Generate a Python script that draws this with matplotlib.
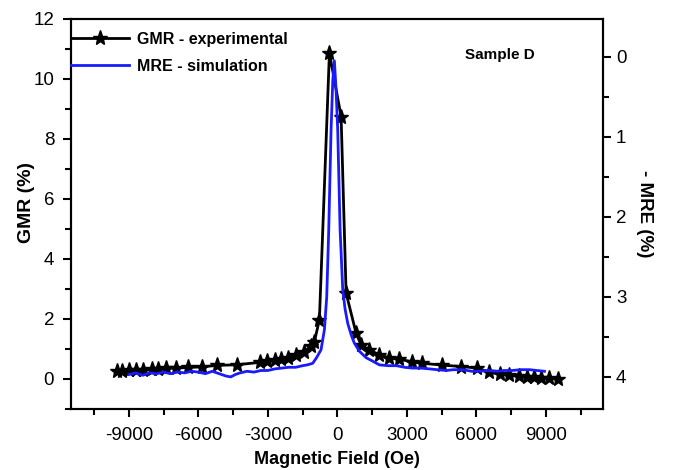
import matplotlib
matplotlib.use('Agg')
import matplotlib.pyplot as plt
from matplotlib.ticker import MultipleLocator

plt.rcParams['font.family'] = ['Liberation Sans', 'DejaVu Sans']
plt.rcParams['axes.unicode_minus'] = False

# GMR - experimental (field in Oe, GMR in %)
gmr_field = [-9500, -9300, -9000, -8700, -8400, -8000, -7750, -7400, -6950, -6450,
             -5850, -5200, -4350, -3350, -3050, -2700, -2430, -2144, -1784, -1424,
             -1137, -993, -777, -345, 160, 375, 807, 1022, 1381, 1813,
             2245, 2676, 3237, 3669, 4532, 5352, 6043, 6561, 7000, 7400,
             7850, 8200, 8500, 8800, 9150, 9500]
gmr_value = [0.25, 0.26, 0.28, 0.30, 0.30, 0.32, 0.33, 0.35, 0.36, 0.38,
             0.40, 0.45, 0.47, 0.55, 0.60, 0.63, 0.65, 0.69, 0.80, 0.91,
             1.08, 1.24, 1.97, 10.86, 8.74, 2.86, 1.52, 1.13, 0.97, 0.80,
             0.70, 0.65, 0.57, 0.52, 0.46, 0.41, 0.36, 0.22, 0.16, 0.12,
             0.08, 0.06, 0.05, 0.04, 0.03, 0.01]

# MRE - simulation (field in Oe, -MRE in %)
mre_field = [-9000, -8700, -8400, -8100, -7800, -7500, -7200, -6900, -6600, -6300,
             -6000, -5700, -5400, -5100, -4800, -4600, -4400, -4200, -3900, -3600,
             -3300, -3000, -2700, -2400, -2100, -1800, -1500, -1300, -1065, -900,
             -705, -561, -461, -374, -273, -200, -130, -60, 13, 116,
             230, 330, 445, 600, 734, 950, 1238, 1500, 1813, 2200,
             2547, 2900, 3237, 3600, 3971, 4300, 4705, 5000, 5395, 5800,
             6129, 6500, 6863, 7200, 7554, 7900, 8288, 8600, 8935]
mre_value = [3.97, 3.95, 3.98, 3.95, 3.96, 3.94, 3.96, 3.94, 3.95, 3.93,
             3.94, 3.96, 3.93, 3.96, 3.99, 4.00, 3.97, 3.95, 3.93, 3.94,
             3.92, 3.92, 3.90, 3.89, 3.88, 3.88, 3.86, 3.85, 3.83, 3.76,
             3.66, 3.41, 3.00, 2.16, 0.91, 0.30, 0.05, 0.40, 0.91, 2.16,
             2.91, 3.15, 3.33, 3.48, 3.58, 3.68, 3.76, 3.80, 3.85, 3.86,
             3.86, 3.88, 3.89, 3.89, 3.90, 3.91, 3.92, 3.91, 3.91, 3.93,
             3.93, 3.92, 3.93, 3.92, 3.92, 3.91, 3.91, 3.92, 3.93]

fig = plt.figure(figsize=(6.75, 4.7), dpi=100)
ax = fig.add_axes([0.105, 0.13, 0.788, 0.83])
ax2 = ax.twinx()

l1, = ax.plot(gmr_field, gmr_value, color='black', lw=2, marker='*', ms=11,
              label='GMR - experimental')
l2, = ax2.plot(mre_field, mre_value, color='#1a1aff', lw=2,
               label='MRE - simulation')

ax.set_xlim(-11500, 11450)
ax2.set_ylim(4.4, -0.475)

ax.set_xticks([-9000, -6000, -3000, 0, 3000, 6000, 9000])
ax.xaxis.set_minor_locator(MultipleLocator(1500))
ax.set_yticks(range(0, 13, 2))
ax.yaxis.set_minor_locator(MultipleLocator(1))
ax.set_ylim(-1, 12)
ax2.yaxis.set_major_locator(MultipleLocator(1))
ax2.yaxis.set_minor_locator(MultipleLocator(0.5))

for a in (ax, ax2):
    for s in a.spines.values():
        s.set_linewidth(1.5)
    a.tick_params(which='major', length=6, width=1.5, labelsize=13.5, direction='out')
    a.tick_params(which='minor', length=4, width=1.5, direction='out')
ax.tick_params(axis='x', pad=7)
ax.tick_params(axis='y', pad=6)

ax.set_xlabel('Magnetic Field (Oe)', fontsize=13, fontweight='bold')
ax.set_ylabel('GMR (%)', fontsize=14, fontweight='bold')
ax2.set_ylabel('- MRE (%)', fontsize=13.5, fontweight='bold', rotation=-90)
ax.xaxis.set_label_coords(0.5, -0.108)
ax.yaxis.set_label_coords(-0.068, 0.53)
ax2.yaxis.set_label_coords(1.095, 0.5)

ax2.text(0.806, 0.908, 'Sample D', transform=ax.transAxes, fontsize=11,
         fontweight='bold', ha='center', va='center')

ax2.legend(handles=[l1, l2], loc='upper left', bbox_to_anchor=(-0.005, 0.975),
           frameon=False, handlelength=3.6, borderaxespad=0, borderpad=0.2,
           handletextpad=0.5, labelspacing=0.75,
           prop={'weight': 'bold', 'size': 11.5})

fig.savefig('out.png', dpi=100)
